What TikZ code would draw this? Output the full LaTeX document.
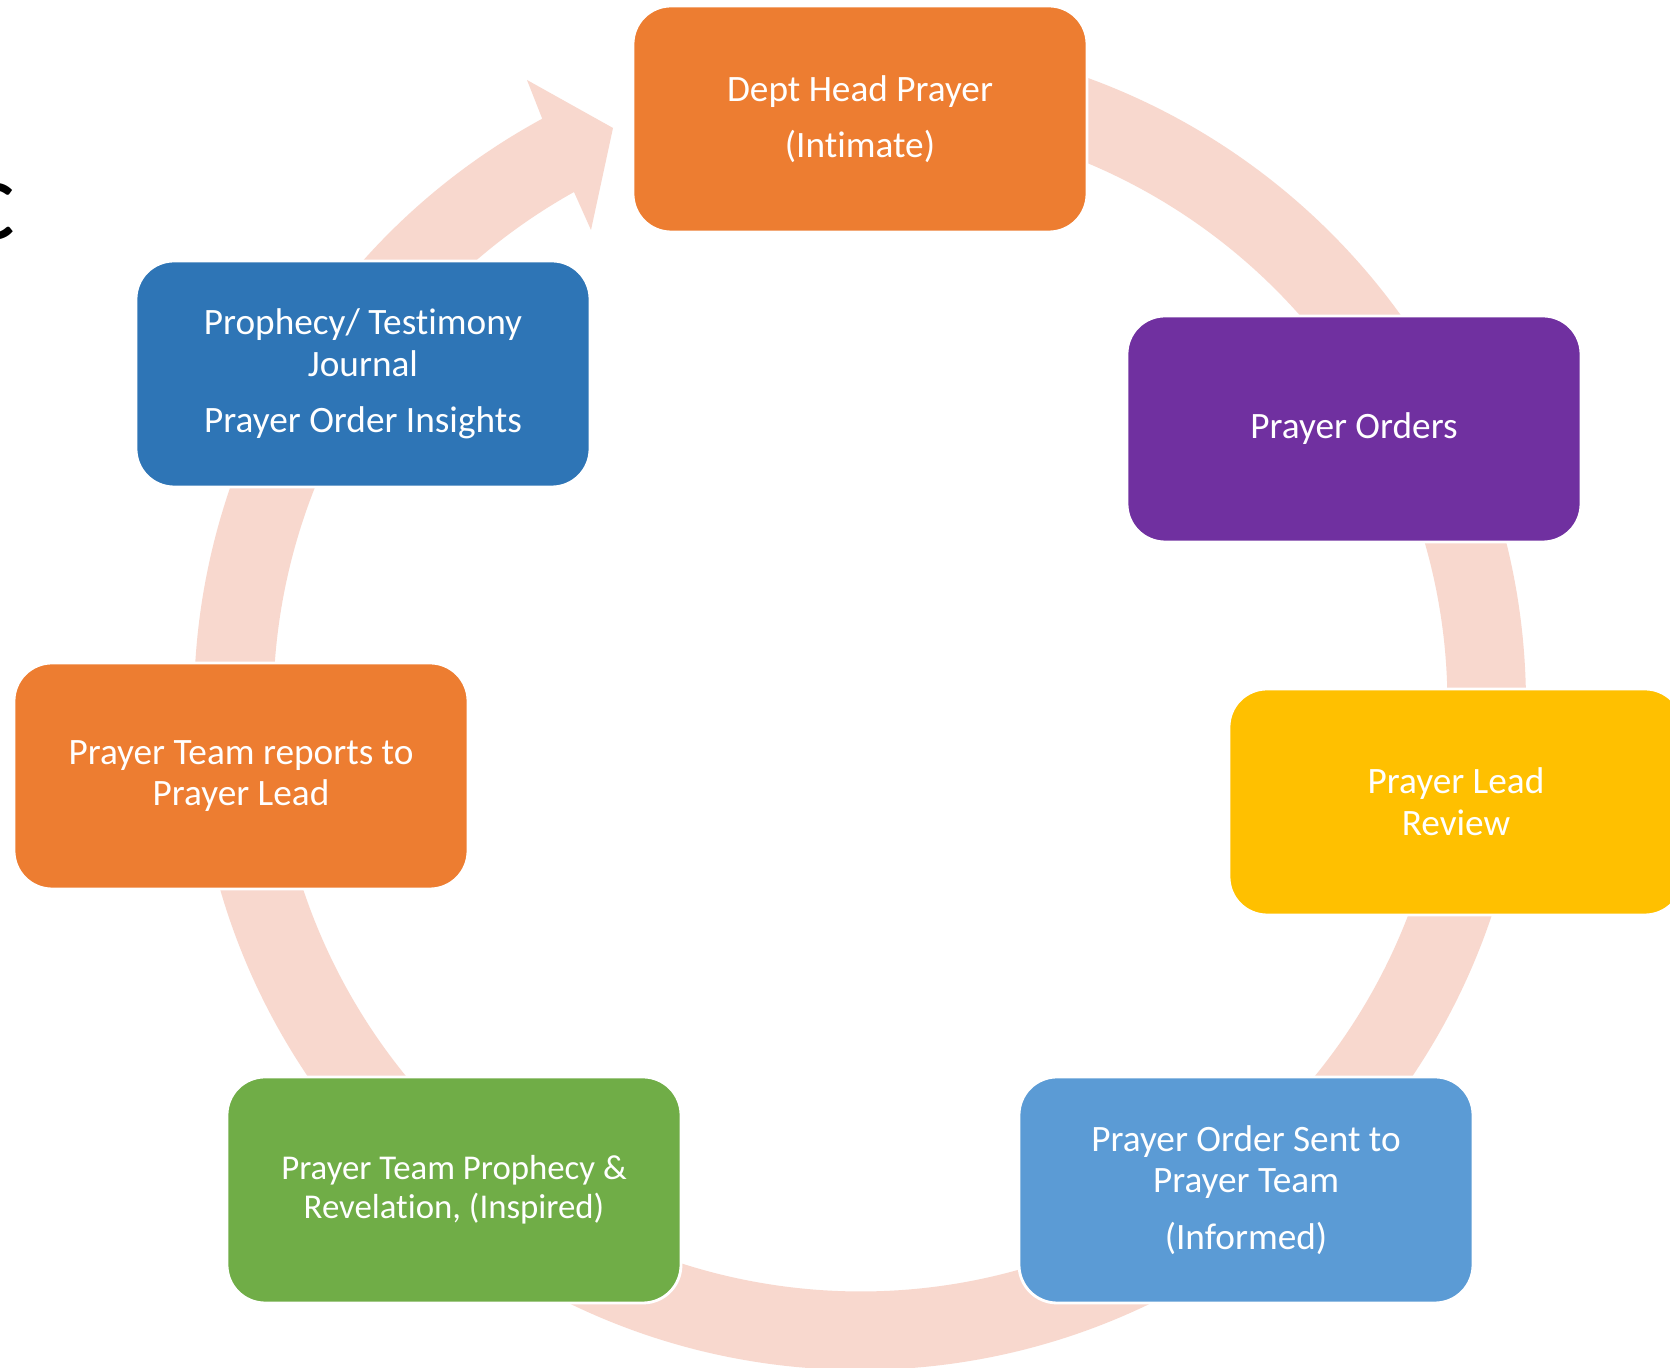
\documentclass[tikz,border=0pt]{standalone}
\usepackage{fontspec}
\setmainfont{Carlito}[Ligatures=NoCommon]
\usepackage{tikz}
\usetikzlibrary{positioning}
\definecolor{ringpink}{HTML}{F8D8CE}
\definecolor{boxorange}{HTML}{ED7D31}
\definecolor{boxpurple}{HTML}{7030A0}
\definecolor{boxyellow}{HTML}{FFC000}
\definecolor{boxlightblue}{HTML}{5B9BD5}
\definecolor{boxgreen}{HTML}{70AD47}
\definecolor{boxblue}{HTML}{2E75B6}
\tikzset{
    stage/.style={
      rectangle, rounded corners=0.38cm,
           draw=white, line width=0.8pt,
           text=white, align=center,
           inner sep=2pt,
           minimum width=4.54cm,
           minimum height=2.26cm,
           font=\fontsize{10.6}{11.9}\selectfont,
           },
}
\tikzset{
    orangestage/.style={stage, fill=boxorange},
    purplestage/.style={stage, fill=boxpurple},
    yellowstage/.style={stage, fill=boxyellow},
    lightbluestage/.style={stage, fill=boxlightblue},
    greenstage/.style={stage, fill=boxgreen},
    bluestage/.style={stage, fill=boxblue},
}

\begin{document}
\begin{tikzpicture}

\clip (0,0) rectangle (16.70,13.68);
\fill[white] (0,0) rectangle (16.70,13.68);

% the cycle arrow behind the boxes
\coordinate (ctr) at (8.60,6.64);
\fill[ringpink] (ctr) ++(90:6.66) arc[start angle=90, end angle=-241.5, radius=6.66]
    -- (5.27,12.88) -- (6.13,12.40) -- (5.91,11.38) -- (5.74,11.76)
    arc[start angle=-240.8, end angle=90, radius=5.87] -- cycle;

% cut off letter at the left edge
\node[anchor=base east,inner sep=0pt,font=\fontsize{33}{40}\selectfont](cc) at (0.16,11.28){c};

\node[orangestage](dh) at (8.60,12.49){Dept Head Prayer\\[4.2pt](Intimate)};
\node[purplestage](po) at (13.54,9.39){Prayer Orders};
\node[yellowstage](lr) at (14.56,5.66){Prayer Lead\\Review};
\node[lightbluestage](ps) at (12.46,1.78){Prayer Order Sent to\\Prayer Team\\[4.2pt](Informed)};
\node[greenstage,font=\fontsize{9.9}{11.2}\selectfont](pr) at (4.54,1.78){Prayer Team Prophecy \&\\Revelation, (Inspired)};
\node[orangestage](rp) at (2.41,5.92){Prayer Team reports to\\Prayer Lead};
\node[bluestage](pj) at (3.63,9.94){Prophecy/ Testimony\\Journal\\[4.2pt]Prayer Order Insights};

\end{tikzpicture}
\end{document}
